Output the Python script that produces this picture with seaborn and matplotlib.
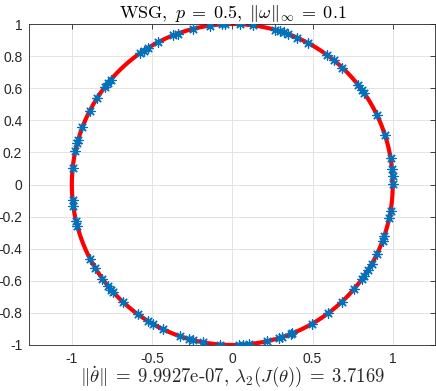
import numpy as np
import pandas as pd
import matplotlib
matplotlib.use("Agg")
import matplotlib.pyplot as plt
import seaborn as sns

# marker angles (degrees)
angles_deg = [174, 168, 165, 164, 159, 152.6, 147.5, 142.4, 140.6, 139.3,
              124.9, 123.5, 121.7, 117.4, 111.5, 109.9, 104, 97.9, 93.7, 92.5,
              87.1, 82.6, 74.7, 72.8, 71.3, 69.8, 66.2, 61.9, 54, 50.7, 46.8,
              38.3, 36, 34.6, 25.7, 18.1, 9.6, 5.4, 2.9, 0.2,
              -9.4, -12, -18.6, -20.6, -25.5, -29.8, -32, -34.8, -36.2, -40.8,
              -47, -53.2, -60.4, -68, -68.7, -72, -73.2, -77.5, -84.1, -86, -87.7,
              185.7, 187.6, 193, 194.9, 207.8, 211.5, 216, 219, 220.9, 221.9,
              227.2, 234, 238.5, 240.5, 244.6, 250.8, 254.2, 256, 259.5, 265.5]
x_ticks = [-1, -0.5, 0, 0.5, 1]
x_tick_labels = ["-1", "-0.5", "0", "0.5", "1"]
y_ticks = [-1, -0.8, -0.6, -0.4, -0.2, 0, 0.2, 0.4, 0.6, 0.8, 1]
y_tick_labels = ["-1", "-0.8", "-0.6", "-0.4", "-0.2", "0", "0.2", "0.4", "0.6", "0.8", "1"]
title_text = r"$\mathrm{WSG},\ p\;=\;0.5,\ \|\omega\|_\infty\;=\;0.1$"
xlabel_text = r"$\|\dot{\theta}\|\;=\;9.9927$e-07, $\lambda_2(J(\theta))\;=\;3.7169$"

sns.set_style("white")
plt.rcParams["font.family"] = ["Liberation Sans", "DejaVu Sans"]
plt.rcParams["mathtext.fontset"] = "cm"
plt.rcParams["axes.unicode_minus"] = False

t = np.linspace(0, 2 * np.pi, 721)
circle = pd.DataFrame({"x": np.cos(t), "y": np.sin(t)})
th = np.deg2rad(np.array(angles_deg))
pts = pd.DataFrame({"x": np.cos(th), "y": np.sin(th)})

fig = plt.figure(figsize=(4.36, 3.91), dpi=100)
ax = fig.add_axes([29.3 / 436, 1 - 345 / 391, 406 / 436, 321 / 391])

sns.lineplot(data=circle, x="x", y="y", sort=False, estimator=None,
             color="#FF0000", linewidth=3, ax=ax, zorder=2)
sns.scatterplot(data=pts, x="x", y="y", marker=(8, 2, 0), s=45,
                color="#0072BD", edgecolor="#0072BD", linewidth=0.9, ax=ax, zorder=3)

ax.set_xlim(-1.265, 1.265)
ax.set_ylim(-1, 1)
ax.set_xticks(x_ticks)
ax.set_xticklabels(x_tick_labels)
ax.set_yticks(y_ticks)
ax.set_yticklabels(y_tick_labels)
ax.grid(True, color="#e3e3e3", linewidth=0.7)
ax.set_axisbelow(True)
for s in ax.spines.values():
    s.set_visible(True)
    s.set_color("#262626")
    s.set_linewidth(0.6)
ax.tick_params(direction="in", length=3.5, width=0.6, colors="#262626",
               labelsize=10, top=True, right=True, labelcolor="#262626", pad=5)
ax.set_title(title_text, fontsize=13, pad=4, color="black")
ax.set_xlabel(xlabel_text, fontfamily="cmr10", fontsize=13.5, labelpad=-1, color="#262626")
ax.set_ylabel("")

fig.savefig("out.png", dpi=100)
